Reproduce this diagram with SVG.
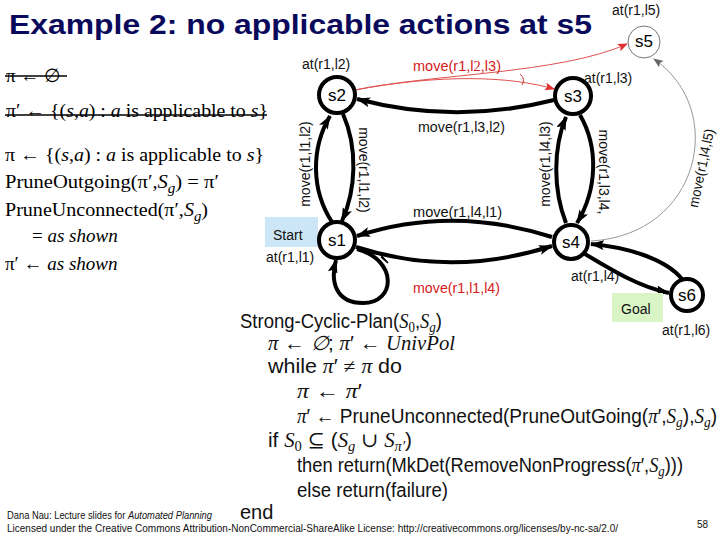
<svg xmlns="http://www.w3.org/2000/svg" width="720" height="540" viewBox="0 0 720 540">
<style>
.title{font-family:"Liberation Sans",Arial,sans-serif;font-weight:bold;font-size:28px;fill:#0a0a5c}
.lt{font-family:"Liberation Serif","Times New Roman",serif;font-size:19px;fill:#000}
.it{font-style:italic}
.lab{font-family:"Liberation Sans",Arial,sans-serif;font-size:14px;fill:#111}
.red{fill:#d42020}
.nl{font-family:"Liberation Sans",Arial,sans-serif;font-size:17px;fill:#000;text-anchor:middle}
.node{fill:#fff;stroke:#000;stroke-width:4}
.thin{fill:#fff;stroke:#777;stroke-width:1}
.e{fill:none;stroke:#000;stroke-width:4}
.er{fill:none;stroke:#e05050;stroke-width:1}
.eg{fill:none;stroke:#999;stroke-width:1}
.alg{font-family:"Liberation Sans",Arial,sans-serif;font-size:20px;fill:#111}
.mi{font-family:"Liberation Serif","Times New Roman",serif;font-style:italic}
.mr{font-family:"Liberation Serif","DejaVu Serif",serif}
.sub{font-size:14px}
.foot{font-family:"Liberation Sans",Arial,sans-serif;font-size:10px;fill:#111}
</style>
<defs>
<marker id="ab" viewBox="0 0 14 10" refX="13" refY="5" markerWidth="14" markerHeight="10" markerUnits="userSpaceOnUse" orient="auto"><path d="M0,0 L14,5 L0,10 L3,5 z" fill="#000"/></marker>
<marker id="ar" viewBox="0 0 10 8" refX="9" refY="4" markerWidth="10" markerHeight="8" markerUnits="userSpaceOnUse" orient="auto"><path d="M0,0 L10,4 L0,8 L2,4 z" fill="#e03030"/></marker>
<marker id="ag" viewBox="0 0 10 8" refX="9" refY="4" markerWidth="10" markerHeight="8" markerUnits="userSpaceOnUse" orient="auto"><path d="M0,0 L10,4 L0,8 L2,4 z" fill="#666"/></marker>
</defs>
<rect width="720" height="540" fill="#fff"/>
<text class="title" x="9" y="34" textLength="583" lengthAdjust="spacingAndGlyphs">Example 2: no applicable actions at s5</text>

<g id="left-text">
<text class="lt" x="6" y="82">π ← ∅</text>
<line x1="5" y1="76" x2="67" y2="76" stroke="#000" stroke-width="1.5"/>
<text class="lt" x="6" y="117" textLength="262" lengthAdjust="spacingAndGlyphs">π′ ← {(<tspan class="it">s</tspan>,<tspan class="it">a</tspan>) : <tspan class="it">a</tspan> is applicable to <tspan class="it">s</tspan>}</text>
<line x1="5" y1="115" x2="267" y2="115" stroke="#000" stroke-width="1.5"/>
<text class="lt" x="5" y="161" textLength="259" lengthAdjust="spacingAndGlyphs">π ← {(<tspan class="it">s</tspan>,<tspan class="it">a</tspan>) : <tspan class="it">a</tspan> is applicable to <tspan class="it">s</tspan>}</text>
<text class="lt" x="5" y="188" textLength="214" lengthAdjust="spacingAndGlyphs">PruneOutgoing(π′,<tspan class="it">S</tspan><tspan class="it" font-size="14" dy="5">g</tspan><tspan dy="-5">) = π′</tspan></text>
<text class="lt" x="5" y="216" textLength="203" lengthAdjust="spacingAndGlyphs">PruneUnconnected(π′,<tspan class="it">S</tspan><tspan class="it" font-size="14" dy="5">g</tspan><tspan dy="-5">)</tspan></text>
<text class="lt" x="32" y="242">= <tspan class="it">as shown</tspan></text>
<text class="lt" x="5" y="270">π′ ← <tspan class="it">as shown</tspan></text>
</g>

<g id="connectors">
<path class="e" d="M332,222 C311,190 311,148 330,116" marker-end="url(#ab)"/>
<path class="e" d="M343,114 C358,148 356,190 342,221" marker-end="url(#ab)"/>
<path class="e" d="M566,223 C553,190 553,148 566,117" marker-end="url(#ab)"/>
<path class="e" d="M580,115 C599,148 597,190 577,223" marker-end="url(#ab)"/>
<path class="e" d="M554,100 Q455,125 357,99" marker-end="url(#ab)"/>
<path class="e" d="M552,237 Q452,205 357,236" marker-end="url(#ab)"/>
<path class="e" d="M356,247 Q452,278 552,246" marker-end="url(#ab)"/>
<path class="e" d="M357,249 C398,260 396,303 363,303 C336,303 330,282 336,260" marker-end="url(#ab)"/>
<path d="M379,253 L388,263 L381,257" fill="none" stroke="#000" stroke-width="1.5"/>
<path class="e" d="M585,254 C615,272 640,287 669,293" marker-end="url(#ab)"/>
<path class="e" d="M682,279 C665,258 625,247 591,244" marker-end="url(#ab)"/>
<path class="er" d="M355,90 C430,74 560,74 627,44" marker-end="url(#ar)"/>
<path class="er" d="M355,90 C440,74 510,76 554,89" marker-end="url(#ar)"/>
<path d="M520,74 Q526,79 522,85" fill="none" stroke="#d04040" stroke-width="1"/>
<path class="eg" d="M591,241 C700,235 728,110 654,59" marker-end="url(#ag)"/>
</g>

<g id="edge-labels">
<text class="lab red" x="413" y="71" textLength="88" lengthAdjust="spacingAndGlyphs">move(r1,l<tspan font-family="Liberation Serif">2</tspan>,l3)</text>
<text class="lab" x="418" y="132" textLength="87" lengthAdjust="spacingAndGlyphs">move(r1,l3,l2)</text>
<text class="lab" x="413" y="217" textLength="89" lengthAdjust="spacingAndGlyphs">move(r1,l4,l1)</text>
<text class="lab red" x="413" y="293" textLength="87" lengthAdjust="spacingAndGlyphs">move(r1,l1,l4)</text>
<text class="lab" transform="translate(310,164) rotate(-90)" text-anchor="middle">move(r1,l1,l2)</text>
<text class="lab" transform="translate(359,170) rotate(90)" text-anchor="middle">move(r1,l1,l2)</text>
<text class="lab" transform="translate(550,164) rotate(-90)" text-anchor="middle">move(r1,l4,l3)</text>
<text class="lab" transform="translate(599,172) rotate(90)" text-anchor="middle">move(r1,l3,l4,</text>
<text class="lab" transform="translate(706,169) rotate(-78)" text-anchor="middle" textLength="80" lengthAdjust="spacingAndGlyphs">move(r1,l4,l5)</text>
</g>

<g id="s1">
<rect x="265" y="217" width="53" height="30" fill="#cde6f7"/>
<text class="lab" x="273" y="240" font-size="16">Start</text>
<circle class="node" cx="337" cy="240" r="18"/>
<text class="nl" x="337" y="246">s1</text>
<text class="lab" x="266" y="262" font-size="15">at(r1,l1)</text>
</g>
<g id="s2">
<circle class="node" cx="337" cy="95" r="18"/>
<text class="nl" x="337" y="101">s2</text>
<text class="lab" x="302" y="69" font-size="15">at(r1,l2)</text>
</g>
<g id="s3">
<circle class="node" cx="573" cy="96" r="18"/>
<text class="nl" x="573" y="102">s3</text>
<text class="lab" x="584" y="83" font-size="15">at(r1,l3)</text>
</g>
<g id="s4">
<circle class="node" cx="571" cy="242" r="17"/>
<text class="nl" x="571" y="248">s4</text>
<text class="lab" x="571" y="281" font-size="15">at(r1,l4)</text>
</g>
<g id="s5">
<circle class="thin" cx="644" cy="42" r="16"/>
<text class="nl" x="644" y="47" font-size="15">s5</text>
<text class="lab" x="612" y="15" font-size="14">at(r1,l5)</text>
</g>
<g id="s6">
<rect x="612" y="293" width="51" height="29" fill="#d9f5c6"/>
<text class="lab" x="621" y="314" font-size="17">Goal</text>
<circle class="node" cx="687" cy="295" r="16"/>
<text class="nl" x="687" y="301">s6</text>
<text class="lab" x="662" y="335" font-size="13">at(r1,l6)</text>
</g>

<g id="algorithm">
<text class="alg" x="240" y="328" textLength="202" lengthAdjust="spacingAndGlyphs">Strong-Cyclic-Plan(<tspan class="mi">S</tspan><tspan class="mr sub" dy="4">0</tspan><tspan dy="-4">,</tspan><tspan class="mi">S</tspan><tspan class="mi sub" dy="4">g</tspan><tspan dy="-4">)</tspan></text>
<text class="alg" x="268" y="350" textLength="187" lengthAdjust="spacingAndGlyphs"><tspan class="mi">π</tspan> <tspan class="mr">←</tspan> <tspan class="mi">∅</tspan>; <tspan class="mi">π</tspan>′ <tspan class="mr">←</tspan> <tspan class="mi">UnivPol</tspan></text>
<text class="alg" x="268" y="373" textLength="134" lengthAdjust="spacingAndGlyphs">while <tspan class="mi">π</tspan>′ <tspan class="mr">≠</tspan> <tspan class="mi">π</tspan> do</text>
<text class="alg" x="297" y="398" textLength="65" lengthAdjust="spacingAndGlyphs"><tspan class="mi">π</tspan> <tspan class="mr">←</tspan> <tspan class="mi">π</tspan>′</text>
<text class="alg" x="297" y="423" textLength="420" lengthAdjust="spacingAndGlyphs"><tspan class="mi">π</tspan>′ <tspan class="mr">←</tspan> PruneUnconnected(PruneOutGoing(<tspan class="mi">π</tspan>′,<tspan class="mi">S</tspan><tspan class="mi sub" dy="4">g</tspan><tspan dy="-4">),</tspan><tspan class="mi">S</tspan><tspan class="mi sub" dy="4">g</tspan><tspan dy="-4">)</tspan></text>
<text class="alg" x="268" y="447" textLength="144" lengthAdjust="spacingAndGlyphs">if <tspan class="mi">S</tspan><tspan class="mr sub" dy="4">0</tspan><tspan dy="-4"> </tspan><tspan class="mr">⊆</tspan> (<tspan class="mi">S</tspan><tspan class="mi sub" dy="4">g</tspan><tspan dy="-4"> </tspan><tspan class="mr">∪</tspan> <tspan class="mi">S</tspan><tspan class="mi sub" dy="4">π′</tspan><tspan dy="-4">)</tspan></text>
<text class="alg" x="297" y="472" textLength="386" lengthAdjust="spacingAndGlyphs">then return(MkDet(RemoveNonProgress(<tspan class="mi">π</tspan>′,<tspan class="mi">S</tspan><tspan class="mi sub" dy="4">g</tspan><tspan dy="-4">)))</tspan></text>
<text class="alg" x="297" y="497" textLength="151" lengthAdjust="spacingAndGlyphs">else return(failure)</text>
<text class="alg" x="240" y="519">end</text>
</g>

<g id="footer">
<text class="foot" x="7" y="519" textLength="205" lengthAdjust="spacingAndGlyphs">Dana Nau: Lecture slides for <tspan font-style="italic">Automated Planning</tspan></text>
<text class="foot" x="7" y="532" textLength="611" lengthAdjust="spacingAndGlyphs">Licensed under the Creative Commons Attribution-NonCommercial-ShareAlike License: http://creativecommons.org/licenses/by-nc-sa/2.0/</text>
<text class="foot" x="697" y="528" font-size="9">58</text>
</g>
</svg>
